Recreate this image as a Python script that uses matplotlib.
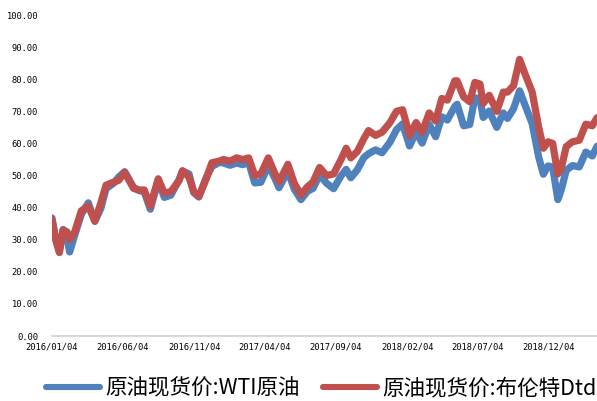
import matplotlib.pyplot as plt
import matplotlib.dates as mdates
import pandas as pd

plt.rcParams['font.family'] = ['Noto Sans CJK SC', 'DejaVu Sans']

# 日期与价格（美元/桶）
dates = [
    '2016-01-04', '2016-01-12', '2016-01-20', '2016-01-28', '2016-02-05', '2016-02-11', '2016-02-22',
    '2016-03-07', '2016-03-22', '2016-04-05', '2016-04-18', '2016-04-29', '2016-05-16', '2016-05-26',
    '2016-06-08', '2016-06-27', '2016-07-08', '2016-07-20', '2016-08-02', '2016-08-19', '2016-09-01',
    '2016-09-15', '2016-10-03', '2016-10-10', '2016-10-24', '2016-11-03', '2016-11-14', '2016-11-30',
    '2016-12-12', '2016-12-28',
    '2017-01-06', '2017-01-20', '2017-02-03', '2017-02-16', '2017-03-01', '2017-03-14', '2017-03-27',
    '2017-04-12', '2017-04-25', '2017-05-05', '2017-05-24', '2017-06-07', '2017-06-21', '2017-07-05',
    '2017-07-17', '2017-07-31', '2017-08-15', '2017-08-30', '2017-09-15', '2017-09-26', '2017-10-06',
    '2017-10-20', '2017-11-03', '2017-11-13', '2017-11-28', '2017-12-12', '2017-12-29',
    '2018-01-12', '2018-01-25', '2018-02-09', '2018-02-23', '2018-03-08', '2018-03-23', '2018-04-06',
    '2018-04-19', '2018-05-01', '2018-05-17', '2018-05-22', '2018-06-05', '2018-06-18', '2018-06-29',
    '2018-07-10', '2018-07-17', '2018-07-30', '2018-08-15', '2018-08-29', '2018-09-07', '2018-09-20',
    '2018-10-03', '2018-10-15', '2018-10-30', '2018-11-13', '2018-11-23', '2018-12-03', '2018-12-13',
    '2018-12-24', '2018-12-31',
    '2019-01-11', '2019-01-24', '2019-02-08', '2019-02-22', '2019-03-08', '2019-03-18',
]

wti = [
    36.8, 30.4, 26.6, 33.2, 30.9, 26.2, 31.5,
    37.9, 41.5, 35.7, 39.8, 45.9, 47.7, 49.5,
    51.2, 46.3, 45.4, 44.9, 39.5, 48.5, 43.2,
    43.9, 48.8, 51.4, 50.5, 44.7, 43.3, 49.4,
    52.8, 54.1,
    53.9, 53.2, 53.9, 53.4, 54.0, 47.7, 47.9,
    53.1, 49.5, 46.2, 51.4, 45.7, 42.5, 45.1,
    46.0, 50.2, 47.6, 45.9, 49.9, 51.9, 49.3,
    51.8, 55.6, 56.8, 58.0, 57.1, 60.4,
    64.3, 66.1, 59.2, 63.6, 60.1, 65.9, 62.1,
    68.3, 67.3, 71.5, 72.2, 65.5, 65.9, 74.2,
    73.9, 68.1, 70.1, 65.0, 69.5, 67.8, 70.8,
    76.4, 71.8, 66.2, 55.7, 50.4, 53.0, 52.6,
    42.5, 45.4,
    51.6, 53.1, 52.7, 57.3, 56.1, 59.1,
]

brent = [
    36.3, 30.0, 26.0, 33.0, 32.5, 30.1, 32.5,
    39.0, 40.5, 35.9, 41.5, 47.0, 48.0, 48.5,
    51.0, 46.0, 45.5, 45.5, 40.5, 49.0, 44.5,
    45.0, 48.5, 51.5, 49.5, 45.0, 43.5, 49.0,
    54.0, 54.5,
    55.0, 54.5, 55.5, 55.0, 55.5, 50.0, 50.5,
    55.5, 51.0, 48.0, 53.5, 47.5, 44.0, 46.5,
    48.0, 52.5, 50.0, 50.5, 55.0, 58.5, 55.5,
    57.5, 61.5, 64.0, 62.5, 63.5, 66.5,
    70.0, 70.5, 62.5, 66.5, 63.5, 69.5, 67.0,
    74.0, 73.5, 79.5, 79.5, 74.5, 73.0, 79.0,
    78.5, 72.5, 75.0, 70.0, 76.0, 76.0, 78.0,
    86.2, 81.5, 76.0, 65.0, 58.5, 60.5, 60.0,
    50.5, 52.0,
    59.0, 60.5, 61.0, 66.0, 65.5, 68.0,
]

tick_dates = ['2016-01-04', '2016-06-04', '2016-11-04', '2017-04-04',
              '2017-09-04', '2018-02-04', '2018-07-04', '2018-12-04']

x = pd.to_datetime(dates)

fig = plt.figure(figsize=(5.97, 4.01), dpi=100)
ax = fig.add_axes([0.087, 0.162, 0.913, 0.8005])

ax.plot(x, wti, color='#4f81bd', lw=5.2, solid_joinstyle='round', solid_capstyle='round',
        label='原油现货价:WTI原油')
ax.plot(x, brent, color='#c0504d', lw=5.2, solid_joinstyle='round', solid_capstyle='round',
        label='原油现货价:布伦特Dtd')

ax.set_ylim(0, 100)
ax.set_yticks(range(0, 101, 10))
ax.set_yticklabels(['%.2f' % v for v in range(0, 101, 10)])
ax.set_xlim(pd.Timestamp('2016-01-04'), pd.Timestamp('2019-03-18'))
ax.set_xticks(pd.to_datetime(tick_dates))
ax.xaxis.set_major_formatter(mdates.DateFormatter('%Y/%m/%d'))

for s in ['top', 'right', 'left']:
    ax.spines[s].set_visible(False)
ax.spines['bottom'].set_color('#d9d9d9')
ax.spines['bottom'].set_linewidth(1.5)
ax.tick_params(axis='both', length=0, labelsize=6.3, colors='#000000')
ax.tick_params(axis='y', pad=10)
ax.tick_params(axis='x', pad=5)
for lab in ax.get_xticklabels() + ax.get_yticklabels():
    lab.set_family('DejaVu Sans Mono')

leg = fig.legend(loc='center', bbox_to_anchor=(0.538, 0.032), ncol=2, frameon=False,
                 fontsize=15.5, handlelength=2.5, columnspacing=1.1, handletextpad=0.25)
for line in leg.get_lines():
    line.set_linewidth(4.4)

fig.savefig('out.png', dpi=100)
